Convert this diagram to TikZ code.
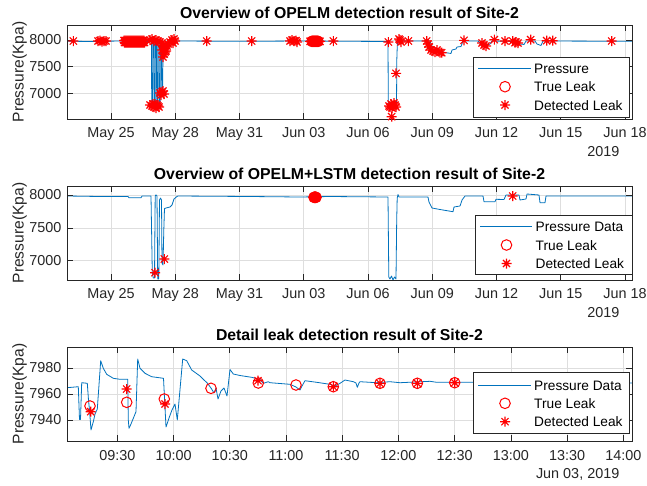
\documentclass[tikz,border=0pt]{standalone}
\usepackage{fontspec}
\setmainfont{Liberation Sans}
\usetikzlibrary{plotmarks}
\definecolor{mblue}{RGB}{0,114,189}
\definecolor{axgray}{RGB}{38,38,38}
\definecolor{gridgray}{RGB}{222,222,222}
\definecolor{mred}{RGB}{255,0,0}

% asterisk marker: a plus sign and a cross laid over each other
\pgfdeclareplotmark{mlstar}{%
  \pgfpathmoveto{\pgfqpoint{-\pgfplotmarksize}{0pt}}%
  \pgfpathlineto{\pgfqpoint{\pgfplotmarksize}{0pt}}%
  \pgfpathmoveto{\pgfqpoint{0pt}{-\pgfplotmarksize}}%
  \pgfpathlineto{\pgfqpoint{0pt}{\pgfplotmarksize}}%
  \pgfpathmoveto{\pgfqpoint{-.72\pgfplotmarksize}{-.72\pgfplotmarksize}}%
  \pgfpathlineto{\pgfqpoint{.72\pgfplotmarksize}{.72\pgfplotmarksize}}%
  \pgfpathmoveto{\pgfqpoint{-.72\pgfplotmarksize}{.72\pgfplotmarksize}}%
  \pgfpathlineto{\pgfqpoint{.72\pgfplotmarksize}{-.72\pgfplotmarksize}}%
  \pgfusepathqstroke}

\newcommand\axtick{\fontsize{14.4pt}{17pt}\selectfont}
\newcommand\axtitle{\fontsize{15.8pt}{18pt}\selectfont\bfseries}
\newcommand\axlabel{\fontsize{15.6pt}{18pt}\selectfont}
\newcommand\legfont{\fontsize{13.7pt}{16pt}\selectfont}

\tikzset{
  axframe/.style={draw=axgray, line width=0.6pt},
  gridline/.style={draw=gridgray, line width=0.6pt},
  dataline/.style={draw=mblue, line width=0.8pt, line join=round},
  starmk/.style={draw=mred, line width=1.1pt, mark=mlstar, mark size=5pt},
  circmk/.style={draw=mred, line width=1pt, mark=o, mark size=5.3pt},
  ticklab/.style={text=axgray, font=\axtick, inner sep=0pt},
  titlelab/.style={text=black, font=\axtitle, inner sep=0pt, anchor=base},
  ylab/.style={text=axgray, font=\axlabel, inner sep=0pt, rotate=90, anchor=base},
  legframe/.style={draw=axgray, line width=0.6pt, fill=white},
  legtext/.style={text=black, font=\legfont, inner sep=0pt, anchor=base west},
}

\begin{document}
\begin{tikzpicture}[x=1pt,y=-1pt]
\useasboundingbox (0,0) rectangle (647,485);
\fill[white] (0,0) rectangle (647,485);

%================ OPELM overview ================
\coordinate (T-nw) at (67,25);
\coordinate (T-se) at (632,119);
\foreach \i in {0,...,8} {\draw[gridline] ({111+64.25*\i},25) -- ({111+64.25*\i},119);}
\foreach \y in {40,66.67,93.33} {\draw[gridline] (67,\y) -- (632,\y);}
\begin{scope}
\clip (T-nw) rectangle (T-se);
\draw[dataline] plot coordinates {(67,41.2) (90,41.5) (120,41) (135,41.8) (150,41.3) (151.5,41) (151.7,106) (152.7,106) (152.9,41) (154,41) (154.2,107) (155.2,107) (155.4,40.5) (156.5,40.5) (156.7,105) (157.6,105) (157.8,42) (159,42) (159.2,106) (160.2,102) (160.4,45) (161.5,45) (161.7,93) (162.7,93) (162.9,57) (164,52) (166,47) (168,44) (171,41) (250,41.3) (300,41) (388,41.5) (388.3,107) (390.5,108) (392.5,105.5) (394.5,107.5) (396.5,106) (396.8,60) (397.3,45) (398,40) (400,41) (430,41) (433,49) (438,51) (445,52.5) (451,53.5) (452,50) (456,49) (457,47) (461,46.5) (463,41) (478,41) (481,44) (486,45.5) (490,44) (492,41) (518,41.5) (520,44) (524,44.5) (526,41) (535,41) (537,44) (541,45.5) (543,41) (632,41.3)};
\end{scope}
\draw[axframe] (T-nw) rectangle (T-se);
\foreach \i in {0,...,8} {\draw[axframe] ({111+64.25*\i},119) -- ++(0,-5.65) ({111+64.25*\i},25) -- ++(0,5.65);}
\foreach \y in {40,66.67,93.33} {\draw[axframe] (67,\y) -- ++(5.65,0) (632,\y) -- ++(-5.65,0);}
\foreach \i/\lab in {0/May 25,1/May 28,2/May 31,3/Jun 03,4/Jun 06,5/Jun 09,6/Jun 12,7/Jun 15,8/Jun 18}
  {\node[ticklab, anchor=base] (T-x\i) at ({111+64.25*\i},137.7) {\lab};}
\foreach \y/\lab in {40/8000,66.67/7500,93.33/7000}
  {\node[ticklab, anchor=east] (T-y\lab) at (61.5,\y) {\lab};}
\node[ticklab, anchor=base east] (T-year) at (619.5,156.7) {2019};
\node[titlelab] (T-title) at (349.5,18.4) {Overview of OPELM detection result of Site-2};
\node[ylab] (T-ylab) at (23.5,72) {Pressure(Kpa)};

% true leaks around Jun 03
\fill[mred] (315,41.3) ellipse [x radius=6.5pt, y radius=4.5pt];
\foreach \x in {312,313,...,318} {\draw[circmk] plot[only marks] coordinates {(\x,41.3)};}
% detected leaks
\draw[starmk] plot[only marks] coordinates {(73.3,41) (98,41) (100,40.5) (102,41.5) (104,41) (106,41)
  (150,40) (152,39) (154,41) (156,40) (158,41) (160,42) (162,43)
  (163,46) (165,48) (166,51) (164,54) (163,57) (165,52) (167,46) (168,44) (162,50) (164,49)
  (170,42) (172,40) (174,39) (175,41) (173,43)
  (150,105) (152,106) (154,107) (156,108) (158,106) (155,104) (153,104) (157,105) (159,107)
  (160,93) (162,92) (164,94) (161,95) (163,91)
  (206.7,41) (251.7,41) (290,41) (292,40) (294,41) (296,40.5) (297,42)
  (333.3,41) (388.3,42)
  (389,106) (391,104) (393,106) (395,105) (392,108) (390,107) (394,103) (396,107) (391.7,116.7) (396,73.3)
  (399,39) (400,40) (401,42) (408.3,41)
  (426.7,41) (428,44) (429,47) (431,50) (433,51) (435,52) (437,50) (440,52.5) (441.7,52.7)
  (464,40.3) (482,43) (484,45) (486,46) (494.3,39.7) (505,41) (512.7,41) (515,42.7) (516,42) (518,43)
  (530.7,39.7) (546.7,40.7) (552.7,40.7) (611.7,41)};
\foreach \x in {124,...,144} {\draw[starmk] plot[only marks] coordinates {(\x,40.5)};}
\foreach \x in {124.5,125.5,...,144.5} {\draw[starmk] plot[only marks] coordinates {(\x,42.5)};}
\foreach \x in {310,311,...,320} {\draw[starmk] plot[only marks] coordinates {(\x,41.3)};}

% legend
\coordinate (TL-nw) at (473,57);
\coordinate (TL-se) at (629,117);
\draw[legframe] (TL-nw) rectangle (TL-se);
\coordinate (TL-a) at (478,68.3);
\coordinate (TL-b) at (531,68.3);
\draw[dataline] (TL-a) -- (TL-b);
\draw[circmk] plot[only marks] coordinates {(505,86.7)};
\draw[starmk] plot[only marks] coordinates {(505,105)};
\node[legtext] (TL-t1) at (534,73.3) {Pressure};
\node[legtext] (TL-t2) at (534,91.7) {True Leak};
\node[legtext] (TL-t3) at (534,110) {Detected Leak};

%================ OPELM+LSTM overview ================
\coordinate (M-nw) at (67,186);
\coordinate (M-se) at (632,280);
\foreach \i in {0,...,8} {\draw[gridline] ({111+64.25*\i},186) -- ({111+64.25*\i},280);}
\foreach \y in {195,227.8,260.6} {\draw[gridline] (67,\y) -- (632,\y);}
\begin{scope}
\clip (M-nw) rectangle (M-se);
\draw[dataline] plot coordinates {(67,196) (100,196.5) (128,196.5) (129,197.8) (141,197.8) (142,196) (151,196) (152.3,273) (153.3,278) (154.5,278) (155.2,196) (156,194.8) (157,196) (157.7,279) (158.8,279) (159.5,200) (160.5,198) (161.5,200) (162,263) (163,265) (163.8,230) (164.5,208.5) (166,208) (170,207) (172,205) (174,199) (176.7,196.7) (178,196) (250,196.5) (300,197) (330,196.5) (388,197) (388.8,277) (390,279) (391.5,276) (393,280) (394.5,277) (396,279) (396.7,220) (397.2,198) (398,194.5) (399,197) (428,197) (429,202) (432,208) (440,209.5) (453,211.7) (454,207) (460,206) (462,200) (465,196) (483,196) (484,201.7) (495,201.7) (496,199.3) (504,199.5) (506,195) (519,195) (520,200) (526,199) (527,194) (539,195) (540,202.7) (545,202.7) (546,196) (632,196)};
\end{scope}
\draw[axframe] (M-nw) rectangle (M-se);
\foreach \i in {0,...,8} {\draw[axframe] ({111+64.25*\i},280) -- ++(0,-5.65) ({111+64.25*\i},186) -- ++(0,5.65);}
\foreach \y in {195,227.8,260.6} {\draw[axframe] (67,\y) -- ++(5.65,0) (632,\y) -- ++(-5.65,0);}
\foreach \i/\lab in {0/May 25,1/May 28,2/May 31,3/Jun 03,4/Jun 06,5/Jun 09,6/Jun 12,7/Jun 15,8/Jun 18}
  {\node[ticklab, anchor=base] (M-x\i) at ({111+64.25*\i},298.5) {\lab};}
\foreach \y/\lab in {195/8000,227.8/7500,260.6/7000}
  {\node[ticklab, anchor=east] (M-y\lab) at (61.5,\y) {\lab};}
\node[ticklab, anchor=base east] (M-year) at (619.5,317.5) {2019};
\node[titlelab] (M-title) at (349.5,179.4) {Overview of OPELM+LSTM detection result of Site-2};
\node[ylab] (M-ylab) at (23.5,233) {Pressure(Kpa)};

\fill[mred] (315,197.3) ellipse [x radius=6pt, y radius=5.5pt];
\foreach \x in {314,314.5,...,316} {\draw[circmk] plot[only marks] coordinates {(\x,197.3)};}
\draw[starmk] plot[only marks] coordinates {(155,272.7) (164.3,259) (512.7,196)};

\coordinate (ML-nw) at (475,215);
\coordinate (ML-se) at (632,274.3);
\draw[legframe] (ML-nw) rectangle (ML-se);
\coordinate (ML-a) at (480,226.7);
\coordinate (ML-b) at (532,226.7);
\draw[dataline] (ML-a) -- (ML-b);
\draw[circmk] plot[only marks] coordinates {(506.5,245)};
\draw[starmk] plot[only marks] coordinates {(506.5,263.5)};
\node[legtext] (ML-t1) at (535.5,231.7) {Pressure Data};
\node[legtext] (ML-t2) at (535.5,250) {True Leak};
\node[legtext] (ML-t3) at (535.5,268.5) {Detected Leak};

%================ Detail on Jun 03 ================
\coordinate (B-nw) at (67,347);
\coordinate (B-se) at (632,441);
\foreach \i in {0,...,9} {\draw[gridline] ({117.3+56.23*\i},347) -- ({117.3+56.23*\i},441);}
\foreach \y in {368,394,420} {\draw[gridline] (67,\y) -- (632,\y);}
\begin{scope}
\clip (B-nw) rectangle (B-se);
\draw[dataline] plot coordinates {(67,387.7) (78.3,386.7) (79.5,419.5) (80.5,419.5) (81.7,382.7) (87.3,383.3) (88.5,400) (89.5,410) (91,430) (93.5,421) (95,414) (97.3,409) (100.7,360.7) (103.3,368.3) (106.7,374.3) (113.3,378.3) (120,379.3) (127.7,379.3) (128.3,420) (129,428.3) (131,424) (133.3,418.3) (136,411.7) (137.7,359) (140,368.3) (145,373.3) (151.7,376.7) (163.5,378.3) (166,427) (169,418) (172,410) (175,404) (177.3,420) (182.7,359) (186.7,360.7) (191.7,370) (200,376) (204,380) (207,382.7) (211,388) (214,393) (216,388) (218,399) (221,391) (224,388) (227,396) (230,369.5) (233.3,374) (240,375.5) (251.7,377.3) (260,379.5) (263.3,383.3) (268.3,381.7) (270,382.7) (290,384.3) (296,387) (300,390) (302,386) (305,380.7) (316.7,382.3) (330,384.3) (335,386) (340,383.3) (345,380) (353.3,381.7) (356,383) (357.3,387.3) (359,383) (360,381.7) (376.7,382.7) (390,381.7) (400,382.7) (430,381.3) (436.7,382.3) (470,382.3) (632,383)};
\end{scope}
\draw[axframe] (B-nw) rectangle (B-se);
\foreach \i in {0,...,9} {\draw[axframe] ({117.3+56.23*\i},441) -- ++(0,-5.65) ({117.3+56.23*\i},347) -- ++(0,5.65);}
\foreach \y in {368,394,420} {\draw[axframe] (67,\y) -- ++(5.65,0) (632,\y) -- ++(-5.65,0);}
\foreach \i/\lab in {0/09:30,1/10:00,2/10:30,3/11:00,4/11:30,5/12:00,6/12:30,7/13:00,8/13:30,9/14:00}
  {\node[ticklab, anchor=base] (B-x\i) at ({117.3+56.23*\i},460) {\lab};}
\foreach \y/\lab in {368/7980,394/7960,420/7940}
  {\node[ticklab, anchor=east] (B-y\lab) at (61.5,\y) {\lab};}
\node[ticklab, anchor=base east] (B-date) at (619.5,478.8) {Jun 03, 2019};
\node[titlelab] (B-title) at (349.5,340.6) {Detail leak detection result of Site-2};
\node[ylab] (B-ylab) at (23.5,394) {Pressure(Kpa)};

\draw[circmk] plot[only marks] coordinates {(90,406) (126.7,402.3) (164.3,399) (211,388.3) (258.3,383) (296,385) (333.3,386.7) (380,383.3) (417.3,383.3) (454.7,382.7)};
\draw[starmk] plot[only marks] coordinates {(90.7,411.7) (126.7,389) (165,404) (258,380.7) (333.3,386.7) (380,383.3) (417.3,383.3) (454.7,382.7)};

\coordinate (BL-nw) at (473.3,372.7);
\coordinate (BL-se) at (629.3,433.3);
\draw[legframe] (BL-nw) rectangle (BL-se);
\coordinate (BL-a) at (478.3,385.3);
\coordinate (BL-b) at (530.7,385.3);
\draw[dataline] (BL-a) -- (BL-b);
\draw[circmk] plot[only marks] coordinates {(505,403.3)};
\draw[starmk] plot[only marks] coordinates {(505,421.7)};
\node[legtext] (BL-t1) at (534,390.3) {Pressure Data};
\node[legtext] (BL-t2) at (534,408.3) {True Leak};
\node[legtext] (BL-t3) at (534,426.7) {Detected Leak};
\end{tikzpicture}
\end{document}
